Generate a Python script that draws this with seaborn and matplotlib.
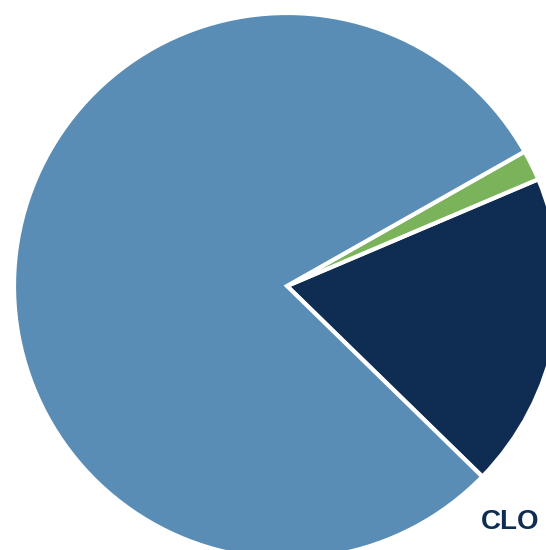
import matplotlib
matplotlib.use("Agg")
import matplotlib.pyplot as plt
import seaborn as sns

categories = ["CLO", "Other", "Remaining"]
values = [18.7, 1.8, 79.5]
colors = ["#0f2d52", "#7ab35a", "#5a8db5"]

sns.set_theme(style="white")
plt.rcParams['font.family'] = ['Liberation Sans', 'DejaVu Sans']

fig = plt.figure(figsize=(5.46, 5.5), dpi=100)
ax = fig.add_axes([0, 0, 1, 1])
ax.pie(values, colors=colors, startangle=-44.3, counterclock=True,
       wedgeprops=dict(edgecolor="white", linewidth=3))
r = 273.0
ax.set_xlim(-287 / r, (546 - 287) / r)
ax.set_ylim(-(550 - 286) / r, 286 / r)
ax.set_aspect('auto')
ax.axis('off')

fig.text(510 / 546, 1 - 522 / 550, categories[0], ha='center', va='center',
         fontsize=20, fontweight='bold', color="#0f2d52")

fig.savefig("out.png", dpi=100)
